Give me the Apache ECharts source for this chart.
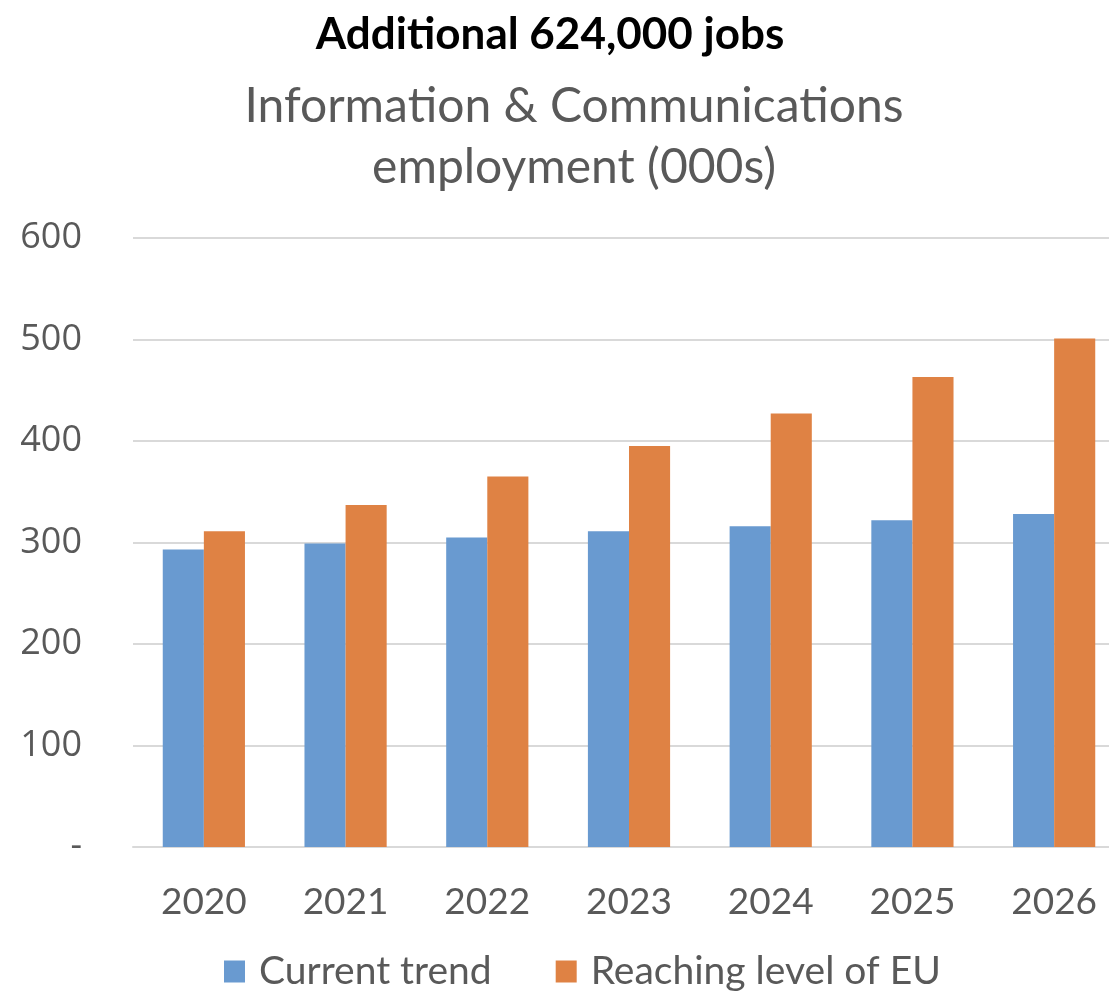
<!DOCTYPE html>
<html><head><meta charset="utf-8">
<script src="https://cdn.jsdelivr.net/npm/echarts@6/dist/echarts.min.js"></script>
<style>html,body{margin:0;padding:0;background:#fff}#c{width:1109px;height:996px}</style>
</head><body><div id="c"></div>
<script>
const categories = ['2020','2021','2022','2023','2024','2025','2026'];
const currentTrend = [293, 299, 305, 311, 316, 322, 328];
const reachingEU = [311, 337, 365, 395, 427, 463, 501];
const seriesNames = ['Current trend', 'Reaching level of EU'];
const titleText = 'Additional 624,000 jobs';
const subtitleText = 'Information & Communications\nemployment (000s)';

const FONT = 'Lato';
const chart = echarts.init(document.getElementById('c'));
chart.setOption({
  animation: false,
  title: [
    { text: titleText, left: 545, textAlign: 'center', top: 8, textStyle: { fontFamily: FONT, fontWeight: 'bold', fontSize: 44, color: '#000' } },
    { text: subtitleText, left: 569, textAlign: 'center', top: 71, textStyle: { fontFamily: FONT, fontWeight: 'normal', fontSize: 48, color: '#595959', lineHeight: 61 } }
  ],
  legend: {
    bottom: 0, left: 219, itemWidth: 21, itemHeight: 22, itemGap: 64,
    icon: 'rect',
    textStyle: { fontFamily: FONT, fontSize: 39, color: '#595959', padding: [0, 0, 0, 9] },
    data: seriesNames
  },
  grid: { left: 133, width: 992, top: 238, bottom: 149, outerBoundsMode: 'none' },
  xAxis: {
    type: 'category', data: categories,
    axisTick: { show: false },
    axisLine: { lineStyle: { color: '#d9d9d9', width: 2 } },
    axisLabel: { fontFamily: FONT, fontSize: 37, color: '#595959', margin: 37 }
  },
  yAxis: {
    type: 'value', min: 0, max: 600, interval: 100,
    axisLine: { show: false }, axisTick: { show: false },
    splitLine: { lineStyle: { color: '#d9d9d9', width: 2 } },
    axisLabel: { fontFamily: 'Open Sans', fontSize: 36, color: '#595959', margin: 51,
      formatter: v => v === 0 ? '-' : String(v) }
  },
  series: [
    { name: seriesNames[0], type: 'bar', data: currentTrend, barWidth: '29%', barGap: '0%', itemStyle: { color: '#699AD0' } },
    { name: seriesNames[1], type: 'bar', data: reachingEU, barWidth: '29%', barGap: '0%', itemStyle: { color: '#DF8244' } }
  ]
});
</script></body></html>
